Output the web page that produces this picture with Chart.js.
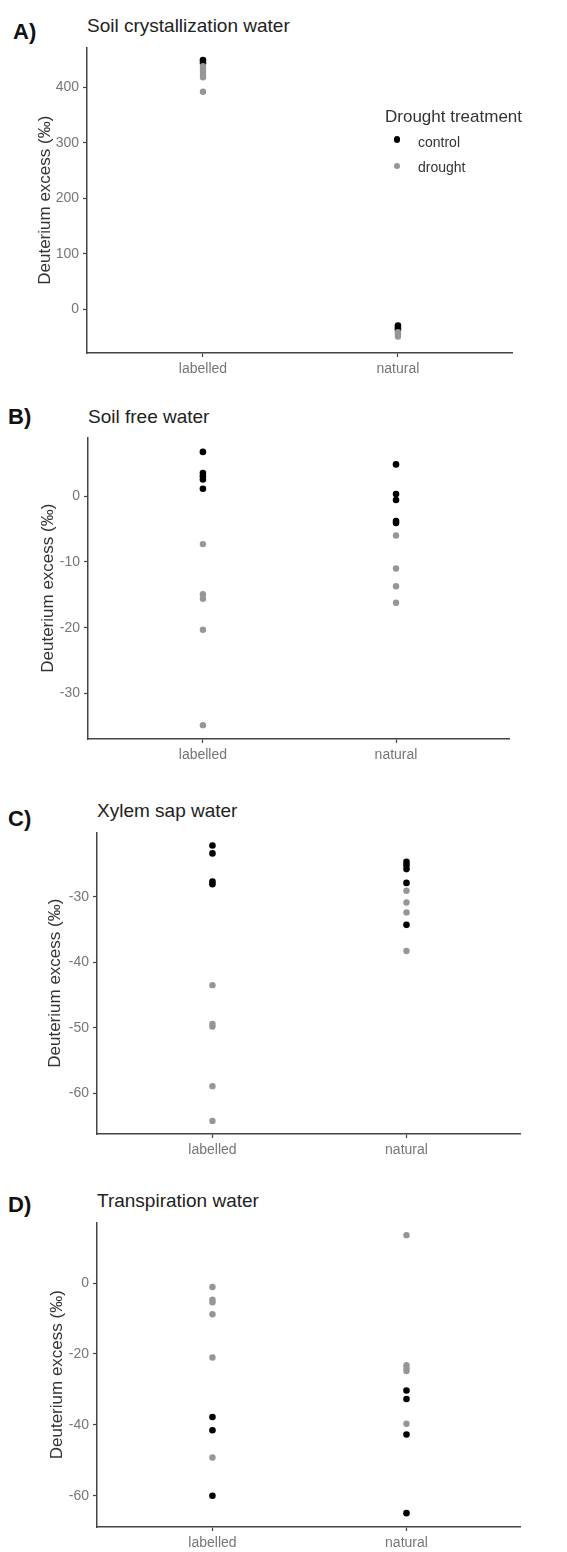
<!DOCTYPE html>
<html><head><meta charset="utf-8">
<script src="https://cdn.jsdelivr.net/npm/chart.js@4.4.1/dist/chart.umd.min.js"></script>
<style>
html,body{margin:0;padding:0;background:#fff;}
body{width:567px;height:1552px;position:relative;overflow:hidden;font-family:"Liberation Sans",Arial,sans-serif;}
.t{position:absolute;white-space:nowrap;}
.dot{position:absolute;border-radius:50%;}
canvas{position:absolute;left:0;}
</style></head><body>
<script>
// ---------- data ----------
const categories = ['labelled', 'natural'];
const groups = ['control', 'drought'];

// A) Soil crystallization water
const aLabelledControl = [449, 444];
const aLabelledDrought = [438, 433, 428, 423, 418, 392];
const aNaturalControl = [-29, -33, -37];
const aNaturalDrought = [-41, -45, -49];
const aTicks = [0, 100, 200, 300, 400];

// B) Soil free water
const bLabelledControl = [6.7, 3.5, 3.0, 2.5, 1.1];
const bLabelledDrought = [-7.3, -14.9, -15.6, -20.3, -34.8];
const bNaturalControl = [4.8, 0.3, -0.6, -3.8, -4.1];
const bNaturalDrought = [-6.0, -11.0, -13.7, -16.2];
const bTicks = [-30, -20, -10, 0];

// C) Xylem sap water
const cLabelledControl = [-22.2, -23.4, -27.7, -28.1];
const cLabelledDrought = [-43.5, -49.4, -49.8, -58.9, -64.2];
const cNaturalControl = [-24.7, -25.2, -25.8, -27.9, -34.3];
const cNaturalDrought = [-29.1, -30.9, -32.4, -38.3];
const cTicks = [-60, -50, -40, -30];

// D) Transpiration water
const dLabelledControl = [-37.8, -41.5, -60.0];
const dLabelledDrought = [-1.1, -4.7, -5.4, -8.8, -21.0, -49.2];
const dNaturalControl = [-30.3, -32.7, -42.7, -64.9];
const dNaturalDrought = [13.5, -23.2, -24.0, -24.8, -39.7];
const dTicks = [-60, -40, -20, 0];

const yTitle = 'Deuterium excess (‰)';
const legendTitle = 'Drought treatment';

// ---------- styles / layout ----------
const FONT = '"Liberation Sans", Arial, sans-serif';
const AXIS = '#444444';
const TICK = '#767676';
const COLORS = {control: '#000000', drought: '#969696'};

const panels = [
  {letter: 'A)', title: 'Soil crystallization water', lc: aLabelledControl, ld: aLabelledDrought, nc: aNaturalControl, nd: aNaturalDrought, ticks: aTicks,
   yMin: -78.6, yMax: 472, area: {top: 45, bottom: 353, left: 87, right: 512}, yTitleX: 45,
   letterPos: {x: 13, base: 40}, titlePos: {x: 87, base: 32.3}},
  {letter: 'B)', title: 'Soil free water', lc: bLabelledControl, ld: bLabelledDrought, nc: bNaturalControl, nd: bNaturalDrought, ticks: bTicks,
   yMin: -36.9, yMax: 8.9, area: {top: 435, bottom: 739, left: 88, right: 509}, yTitleX: 48.5,
   letterPos: {x: 8, base: 425}, titlePos: {x: 88, base: 423.3}},
  {letter: 'C)', title: 'Xylem sap water', lc: cLabelledControl, ld: cLabelledDrought, nc: cNaturalControl, nd: cNaturalDrought, ticks: cTicks,
   yMin: -66.2, yMax: -20.2, area: {top: 830, bottom: 1134, left: 97, right: 520}, yTitleX: 55.5,
   letterPos: {x: 8, base: 826.7}, titlePos: {x: 97, base: 817.3}},
  {letter: 'D)', title: 'Transpiration water', lc: dLabelledControl, ld: dLabelledDrought, nc: dNaturalControl, nd: dNaturalDrought, ticks: dTicks,
   yMin: -68.8, yMax: 17.1, area: {top: 1220, bottom: 1527, left: 97, right: 520}, yTitleX: 57,
   letterPos: {x: 8, base: 1213}, titlePos: {x: 97, base: 1206.7}}
];

function addText(txt, x, base, fs, color, weight) {
  const d = document.createElement('div');
  d.className = 't';
  d.textContent = txt;
  d.style.left = x + 'px';
  d.style.top = (base - 0.8465 * fs) + 'px';
  d.style.fontSize = fs + 'px';
  d.style.lineHeight = fs + 'px';
  d.style.color = color;
  if (weight) d.style.fontWeight = weight;
  document.body.appendChild(d);
}
function addDot(cx, cy, r, color) {
  const d = document.createElement('div');
  d.className = 'dot';
  d.style.left = (cx - r) + 'px';
  d.style.top = (cy - r) + 'px';
  d.style.width = (2 * r) + 'px';
  d.style.height = (2 * r) + 'px';
  d.style.background = color;
  document.body.appendChild(d);
}
function pts(labelled, natural) {
  return labelled.map(v => ({x: 0, y: v})).concat(natural.map(v => ({x: 1, y: v})));
}

panels.forEach(p => {
  addText(p.letter, p.letterPos.x, p.letterPos.base, 22, '#111', 'bold');
  addText(p.title, p.titlePos.x, p.titlePos.base, 19, '#222');

  const cv = document.createElement('canvas');
  const top = p.area.top - 10;
  const h = p.area.bottom - p.area.top + 10 + 30;
  cv.width = 567; cv.height = h;
  cv.style.top = top + 'px';
  cv.style.width = '567px'; cv.style.height = h + 'px';
  document.body.appendChild(cv);

  new Chart(cv, {
    type: 'scatter',
    data: {datasets: [
      {label: 'drought', data: pts(p.ld, p.nd), backgroundColor: COLORS.drought, borderColor: COLORS.drought,
       pointRadius: 3.2, pointBorderWidth: 0, clip: false},
      {label: 'control', data: pts(p.lc, p.nc), backgroundColor: COLORS.control, borderColor: COLORS.control,
       pointRadius: 3.3, pointBorderWidth: 0, clip: false}
    ]},
    options: {
      responsive: false, animation: false, devicePixelRatio: 1,
      layout: {padding: {top: 10, left: 0, right: 567 - p.area.right, bottom: 0}},
      plugins: {legend: {display: false}, tooltip: {enabled: false}},
      scales: {
        x: {
          type: 'linear', min: -0.595, max: 1.585,
          afterBuildTicks: s => { s.ticks = categories.map((c, i) => ({value: i})); },
          afterFit: s => { s.height = 30; },
          grid: {drawOnChartArea: false, drawTicks: true, tickLength: 4, tickColor: AXIS, tickWidth: 1.2},
          border: {display: true, color: AXIS, width: 1.5},
          ticks: {color: TICK, font: {size: 14, family: FONT}, padding: 4, maxRotation: 0, autoSkip: false,
                  callback: v => categories[v]}
        },
        y: {
          type: 'linear', min: p.yMin, max: p.yMax,
          afterBuildTicks: s => { s.ticks = p.ticks.map(v => ({value: v})); },
          afterFit: s => { s.width = p.area.left; },
          grid: {drawOnChartArea: false, drawTicks: true, tickLength: 4, tickColor: AXIS, tickWidth: 1.2},
          border: {display: true, color: AXIS, width: 1.5},
          ticks: {color: TICK, font: {size: 14, family: FONT}, padding: 4},
          title: {display: true, text: yTitle, color: '#333', font: {size: 17, family: FONT},
                  padding: {top: p.yTitleX - 10.2, bottom: 0}}
        }
      }
    }
  });
});

// legend (panel A)
addText(legendTitle, 385, 122, 17, '#333');
addDot(397, 139.5, 3.2, COLORS.control);
addText(groups[0], 418, 146.5, 14, '#333');
addDot(397, 166, 3.2, COLORS.drought);
addText(groups[1], 418, 172, 14, '#333');
</script>
</body></html>
